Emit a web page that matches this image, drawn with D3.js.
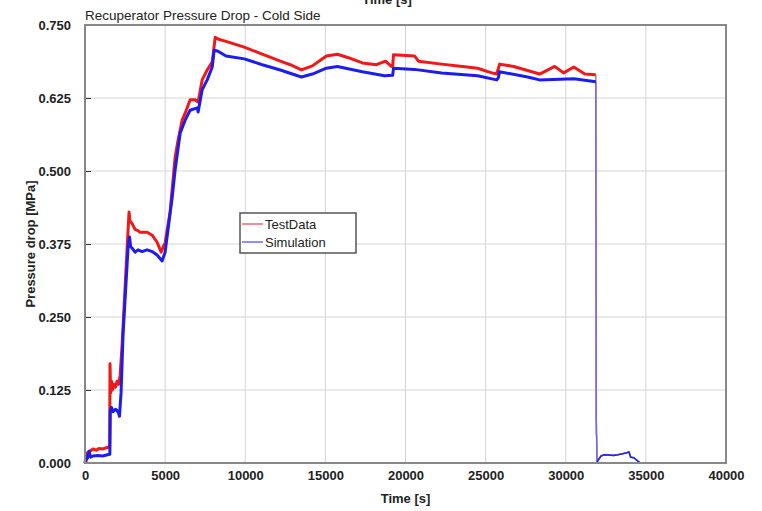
<!DOCTYPE html>
<html>
<head>
<meta charset="utf-8">
<script src="https://cdn.jsdelivr.net/npm/d3@7"></script>
<style>
  html, body { margin: 0; padding: 0; background: #fff; }
  svg { display: block; font-family: "Liberation Sans", Arial, sans-serif; }
</style>
</head>
<body>
<svg id="chart" width="762" height="511"></svg>
<script>
// ---------------- DATA ----------------
const chartTitle = "Recuperator Pressure Drop - Cold Side";
const xTitle = "Time [s]";
const yTitle = "Pressure drop [MPa]";
const seriesNames = ["TestData", "Simulation"];
const xTicks = [0, 5000, 10000, 15000, 20000, 25000, 30000, 35000, 40000];
const yTicks = [0.000, 0.125, 0.250, 0.375, 0.500, 0.625, 0.750];
const shutdownTime = 31875; // last point of the running phase

// TestData (red): time [s], pressure drop [MPa]
const testTime = [0, 100, 150, 300, 500, 700, 900, 1100, 1300, 1500, 1540, 1560, 1600, 1650, 1700, 1800, 1900, 2000, 2100, 2190,
  2310, 2375, 2500, 2690, 2750, 2800, 2940, 3125, 3300, 3440, 3700, 3875, 4190, 4500, 4750, 4875, 5000, 5310, 5625, 5810,
  6060, 6250, 6560, 6875, 7060, 7310, 7625, 7940, 8000, 8125, 8300, 8800, 9940, 11060, 12190, 12810, 13500, 14190, 15060, 15750,
  16440, 17310, 18190, 18750, 19120, 19200, 19250, 20560, 20810, 22250, 23560, 24500, 25380, 25690, 25800, 25870, 26750, 27620, 28370, 29310,
  29870, 30500, 31190, 31875, 31900, 31930, 31960];
const testVal = [0.000, 0.005, 0.018, 0.020, 0.024, 0.022, 0.025, 0.024, 0.026, 0.027, 0.030, 0.170, 0.120, 0.140, 0.125, 0.135, 0.130, 0.140, 0.135, 0.150,
  0.200, 0.233, 0.300, 0.400, 0.430, 0.415, 0.410, 0.400, 0.398, 0.395, 0.395, 0.395, 0.390, 0.378, 0.361, 0.370, 0.377, 0.430, 0.524, 0.553,
  0.587, 0.599, 0.622, 0.622, 0.618, 0.656, 0.673, 0.687, 0.700, 0.729, 0.726, 0.722, 0.712, 0.700, 0.688, 0.682, 0.673, 0.680, 0.697, 0.700,
  0.694, 0.685, 0.682, 0.688, 0.679, 0.680, 0.699, 0.697, 0.688, 0.683, 0.679, 0.676, 0.668, 0.666, 0.676, 0.683, 0.679, 0.672, 0.666, 0.679,
  0.668, 0.678, 0.666, 0.665, 0.050, 0.045, 0.000];

// Simulation (blue): time [s], pressure drop [MPa]
const simTime = [0, 60, 150, 250, 350, 500, 800, 1100, 1400, 1550, 1580, 1650, 1750, 1900, 2000, 2100, 2150, 2250, 2375, 2500,
  2690, 2780, 2850, 2940, 3125, 3310, 3560, 3875, 4190, 4500, 4750, 4810, 5000, 5440, 5625, 5940, 6250, 6560, 7000, 7060,
  7310, 7625, 7940, 8060, 8300, 8800, 9940, 11060, 12190, 13500, 14190, 15060, 15750, 17310, 18690, 19200, 19250, 20560, 22250, 24500,
  25690, 25800, 25870, 27620, 28370, 30500, 31875, 31900, 31920, 31950, 32000, 32200, 32400, 33000, 33250, 33750, 33950, 34050, 34250, 34600];
const simVal = [0.000, 0.012, 0.008, 0.020, 0.010, 0.012, 0.013, 0.012, 0.014, 0.015, 0.090, 0.095, 0.088, 0.092, 0.090, 0.085, 0.080, 0.120, 0.220, 0.280,
  0.370, 0.387, 0.370, 0.368, 0.361, 0.365, 0.362, 0.365, 0.362, 0.356, 0.348, 0.346, 0.361, 0.455, 0.502, 0.565, 0.587, 0.604, 0.608, 0.601,
  0.639, 0.656, 0.678, 0.707, 0.705, 0.697, 0.692, 0.682, 0.673, 0.661, 0.666, 0.676, 0.679, 0.670, 0.663, 0.664, 0.676, 0.674, 0.668, 0.663,
  0.656, 0.660, 0.670, 0.661, 0.656, 0.658, 0.653, 0.075, 0.060, 0.000, 0.004, 0.012, 0.014, 0.013, 0.014, 0.017, 0.019, 0.010, 0.009, 0.001];

// ---------------- CHART ----------------
const svg = d3.select("#chart");
const margin = { left: 85, right: 36, top: 25, bottom: 48 };
const W = 762, H = 511;
const x = d3.scaleLinear().domain([0, 40000]).range([margin.left, W - margin.right]);
const y = d3.scaleLinear().domain([0, 0.75]).range([H - margin.bottom, margin.top]);

// grid
svg.append("g").selectAll("line").data(xTicks.slice(1, -1)).join("line")
  .attr("x1", d => x(d)).attr("x2", d => x(d))
  .attr("y1", y(0)).attr("y2", y(0.75))
  .attr("stroke", "#d4d4d4").attr("stroke-width", 1);
svg.append("g").selectAll("line").data(yTicks.slice(1, -1)).join("line")
  .attr("x1", x(0)).attr("x2", x(40000))
  .attr("y1", d => y(d)).attr("y2", d => y(d))
  .attr("stroke", "#d4d4d4").attr("stroke-width", 1);

// axes (labels only)
const xAxis = d3.axisBottom(x).tickValues(xTicks).tickSize(0).tickPadding(8).tickFormat(d3.format("d"));
const yAxis = d3.axisLeft(y).tickValues(yTicks).tickSize(6).tickPadding(8).tickFormat(d3.format(".3f"));
const gx = svg.append("g").attr("transform", `translate(0,${y(0)})`).call(xAxis);
const gy = svg.append("g").attr("transform", `translate(${x(0)},0)`).call(yAxis);
[gx, gy].forEach(g => {
  g.select(".domain").remove();
  g.selectAll("text").attr("font-size", 13).attr("font-weight", "bold").attr("fill", "#222")
    .attr("font-family", "'Liberation Sans', Arial, sans-serif");
});
gy.selectAll(".tick line").attr("x2", 6).attr("stroke", "#333");

// lines: running phase drawn as a thick noisy band, shutdown phase as a thin trace
const line = d3.line().x(d => x(d[0])).y(d => y(d[1]));
const testData = testTime.map((t, i) => [t, testVal[i]]);
const simData = simTime.map((t, i) => [t, simVal[i]]);
const runPart = data => data.filter(d => d[0] <= shutdownTime);
const stopPart = data => data.filter(d => d[0] >= shutdownTime);
const plot = svg.append("g");
const series = [
  { data: testData, color: "#f01818", light: "#f06a6a" },
  { data: simData, color: "#1c1cf0", light: "#6a6af5" }
];
series.forEach(s => {
  plot.append("path").datum(stopPart(s.data)).attr("d", line)
    .attr("fill", "none").attr("stroke", s.light).attr("stroke-width", 1.5).attr("stroke-linejoin", "round");
});
series.forEach(s => {
  plot.append("path").datum(runPart(s.data)).attr("d", line)
    .attr("fill", "none").attr("stroke", s.color).attr("stroke-width", 3).attr("stroke-linejoin", "round");
});
// blue tail after shutdown, darker
plot.append("path").datum(simData.filter(d => d[0] >= 31950)).attr("d", line)
  .attr("fill", "none").attr("stroke", "#2424d8").attr("stroke-width", 1.6).attr("stroke-linejoin", "round");

// frame
svg.append("rect").attr("x", x(0)).attr("y", y(0.75))
  .attr("width", x(40000) - x(0)).attr("height", y(0) - y(0.75))
  .attr("fill", "none").attr("stroke", "#888").attr("stroke-width", 2);

// titles
svg.append("text").attr("x", x(0)).attr("y", 20).attr("font-size", 13.5).attr("fill", "#222")
  .text(chartTitle);
svg.append("text").attr("x", 387).attr("y", 4).attr("text-anchor", "middle")
  .attr("font-size", 13).attr("font-weight", "bold").attr("fill", "#222").text(xTitle);
svg.append("text").attr("x", (x(0) + x(40000)) / 2).attr("y", 503).attr("text-anchor", "middle")
  .attr("font-size", 13).attr("font-weight", "bold").attr("fill", "#222").text(xTitle);
svg.append("text").attr("transform", `translate(35,${(y(0) + y(0.75)) / 2}) rotate(-90)`)
  .attr("text-anchor", "middle").attr("font-size", 13).attr("font-weight", "bold").attr("fill", "#222")
  .text(yTitle);

// legend
const colors = ["#f06868", "#6a6af0"];
const lg = svg.append("g").attr("transform", "translate(240,213)");
lg.append("rect").attr("width", 116).attr("height", 40).attr("fill", "#fff")
  .attr("stroke", "#555").attr("stroke-width", 1.5);
seriesNames.forEach((n, i) => {
  const yy = 11 + i * 18;
  lg.append("line").attr("x1", 2).attr("x2", 23).attr("y1", yy).attr("y2", yy)
    .attr("stroke", colors[i]).attr("stroke-width", 1.5);
  lg.append("text").attr("x", 25).attr("y", yy + 4.5).attr("font-size", 13).attr("fill", "#222").text(n);
});
</script>
</body>
</html>
